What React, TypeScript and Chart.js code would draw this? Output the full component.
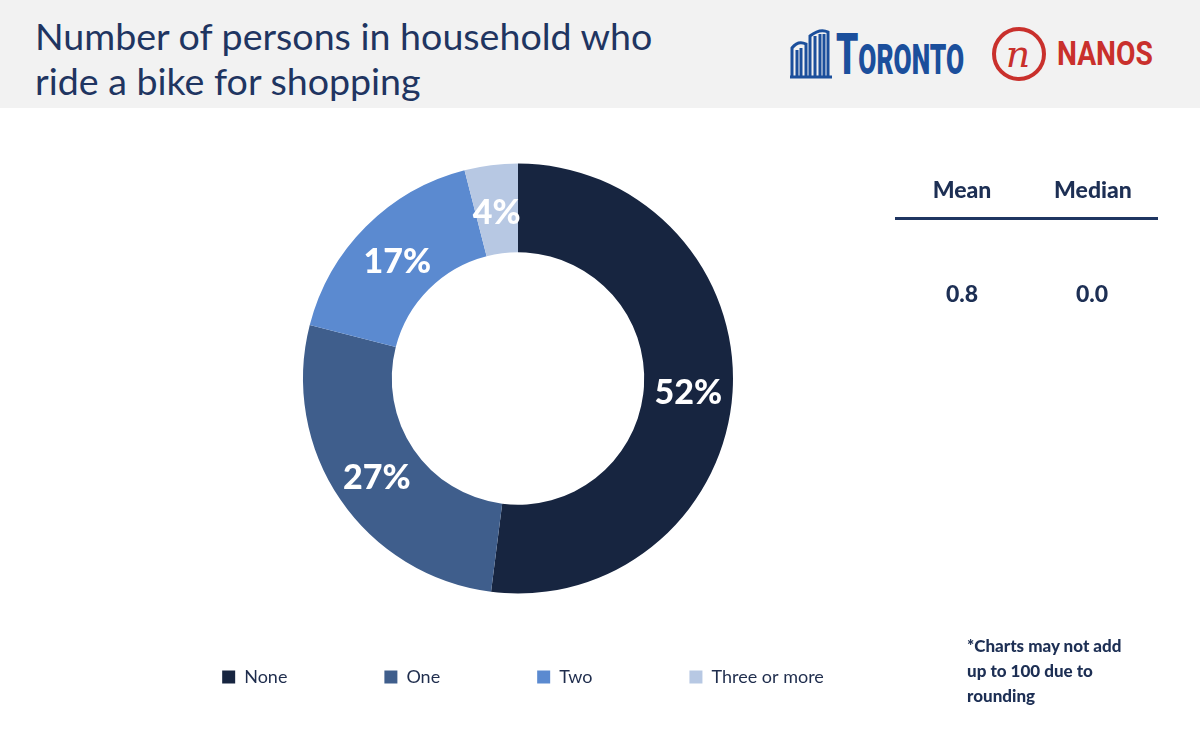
import React, { useEffect, useRef } from "react";
import { Chart, registerables } from "chart.js";

Chart.register(...registerables);

const categories = ["None", "One", "Two", "Three or more"];
const percents = [52, 27, 17, 4];
const sliceColors = ["#172540", "#3f5e8c", "#5b8ad0", "#b7c8e3"];
const statHeaders = ["Mean", "Median"];
const statValues = ["0.8", "0.0"];
const titleLines = ["Number of persons in household who", "ride a bike for shopping"];
const footnoteLines = ["*Charts may not add", "up to 100 due to", "rounding"];

const NAVY = "#1d2f54";

const sliceLabelPlugin = {
  id: "sliceLabels",
  afterLayout(chart: any) {
    if (chart.legend) {
      chart.legend.left += 5;
      chart.legend.right += 5;
    }
  },
  afterDatasetsDraw(chart: any) {
    const ctx = chart.ctx;
    const meta = chart.getDatasetMeta(0);
    ctx.save();
    ctx.fillStyle = "#ffffff";
    ctx.font = "900 34px Lato";
    ctx.textAlign = "center";
    ctx.textBaseline = "middle";
    meta.data.forEach((arc: any, i: number) => {
      const p = arc.tooltipPosition(false);
      ctx.fillText(percents[i] + "%", p.x, p.y + 4);
    });
    ctx.restore();
  },
};

function TorontoLogo() {
  return (
    <div style={{ position: "absolute", left: 788, top: 26, height: 56, width: 185 }}>
      <svg width="46" height="54" viewBox="0 0 46 54" style={{ position: "absolute", left: 0, top: 0 }}>
        <g fill="none" stroke="#1b4f9c" strokeWidth="3">
          <path d="M4 50 L4 22 Q10 14 18 18 L18 50" />
          <path d="M22 50 L22 10 Q32 2 40 6 L40 50" />
          <path d="M9 50 L9 24" />
          <path d="M13 50 L13 22" />
          <path d="M27 50 L27 10" />
          <path d="M32 50 L32 8" />
          <path d="M36 50 L36 8" />
          <path d="M2 51 L44 51" />
        </g>
      </svg>
      <div
        style={{
          position: "absolute",
          left: 48,
          top: 0,
          fontFamily: "Roboto",
          fontWeight: 900,
          color: "#1b4f9c",
          whiteSpace: "nowrap",
          transform: "scaleX(0.61)",
          transformOrigin: "left bottom",
          lineHeight: "56px",
        }}
      >
        <span style={{ fontSize: 58 }}>T</span>
        <span style={{ fontSize: 43 }}>ORONTO</span>
      </div>
    </div>
  );
}

function NanosLogo() {
  return (
    <div style={{ position: "absolute", left: 990, top: 25, height: 60, width: 180 }}>
      <svg width="60" height="60" viewBox="0 0 60 60" style={{ position: "absolute", left: 0, top: 0 }}>
        <circle cx="29" cy="29" r="25" fill="none" stroke="#c9302c" strokeWidth="4" />
        <text
          x="28"
          y="42"
          textAnchor="middle"
          fontFamily="DejaVu Serif"
          fontStyle="italic"
          fontSize="38"
          fill="#c9302c"
        >
          n
        </text>
      </svg>
      <div
        style={{
          position: "absolute",
          left: 67,
          top: 10,
          fontFamily: "Roboto",
          fontWeight: 700,
          fontSize: 34,
          color: "#c9302c",
          whiteSpace: "nowrap",
          lineHeight: "36px",
          transform: "scaleX(0.83)",
          transformOrigin: "left center",
        }}
      >
        NANOS
      </div>
    </div>
  );
}

export default function App() {
  const canvasRef = useRef<HTMLCanvasElement | null>(null);

  useEffect(() => {
    document.body.style.margin = "0";
    const canvas = canvasRef.current;
    if (!canvas) return;
    const chart = new Chart(canvas, {
      type: "doughnut",
      data: {
        labels: categories,
        datasets: [
          {
            data: percents,
            backgroundColor: sliceColors,
            borderWidth: 0,
          },
        ],
      },
      options: {
        animation: false,
        responsive: false,
        cutout: 113,
        radius: 215,
        layout: { padding: { top: 76, bottom: 48, left: 0, right: 0 } },
        plugins: {
          tooltip: { enabled: false },
          legend: {
            position: "bottom",
            labels: {
              boxWidth: 13,
              boxHeight: 13,
              padding: 97,
              color: "#1f2d4d",
              font: { family: "Lato", size: 18 },
            },
          },
        },
      } as any,
      plugins: [sliceLabelPlugin],
    });
    return () => chart.destroy();
  }, []);

  return (
    <div style={{ position: "relative", width: 1200, height: 744, background: "#ffffff", overflow: "hidden" }}>
      <div style={{ position: "absolute", left: 0, top: 0, width: 1200, height: 108, background: "#f2f2f2" }} />
      <div
        style={{
          position: "absolute",
          left: 35,
          top: 13,
          fontFamily: "Lato",
          fontSize: 37.6,
          lineHeight: "45px",
          color: "#1f3561",
          whiteSpace: "nowrap",
        }}
      >
        {titleLines.map((t, i) => (
          <div key={i}>{t}</div>
        ))}
      </div>
      <TorontoLogo />
      <NanosLogo />

      <canvas
        ref={canvasRef}
        width={1036}
        height={634}
        style={{ position: "absolute", left: 0, top: 110, width: 1036, height: 634 }}
      />

      {statHeaders.map((h, i) => (
        <div
          key={"h" + i}
          style={{
            position: "absolute",
            left: (i === 0 ? 962 : 1093) - 70,
            width: 140,
            top: 174,
            textAlign: "center",
            fontFamily: "Lato",
            fontWeight: 900,
            fontSize: 23,
            lineHeight: "30px",
            color: NAVY,
          }}
        >
          {h}
        </div>
      ))}
      <div style={{ position: "absolute", left: 895, top: 217, width: 263, height: 2.5, background: "#1f3561" }} />
      {statValues.map((v, i) => (
        <div
          key={"v" + i}
          style={{
            position: "absolute",
            left: (i === 0 ? 962 : 1092) - 70,
            width: 140,
            top: 278,
            textAlign: "center",
            fontFamily: "Lato",
            fontWeight: 900,
            fontSize: 23,
            lineHeight: "30px",
            color: NAVY,
          }}
        >
          {v}
        </div>
      ))}

      <div
        style={{
          position: "absolute",
          left: 967,
          top: 633,
          fontFamily: "Lato",
          fontWeight: 900,
          fontSize: 17,
          lineHeight: "25px",
          color: NAVY,
          whiteSpace: "nowrap",
        }}
      >
        {footnoteLines.map((t, i) => (
          <div key={i}>{t}</div>
        ))}
      </div>
    </div>
  );
}
